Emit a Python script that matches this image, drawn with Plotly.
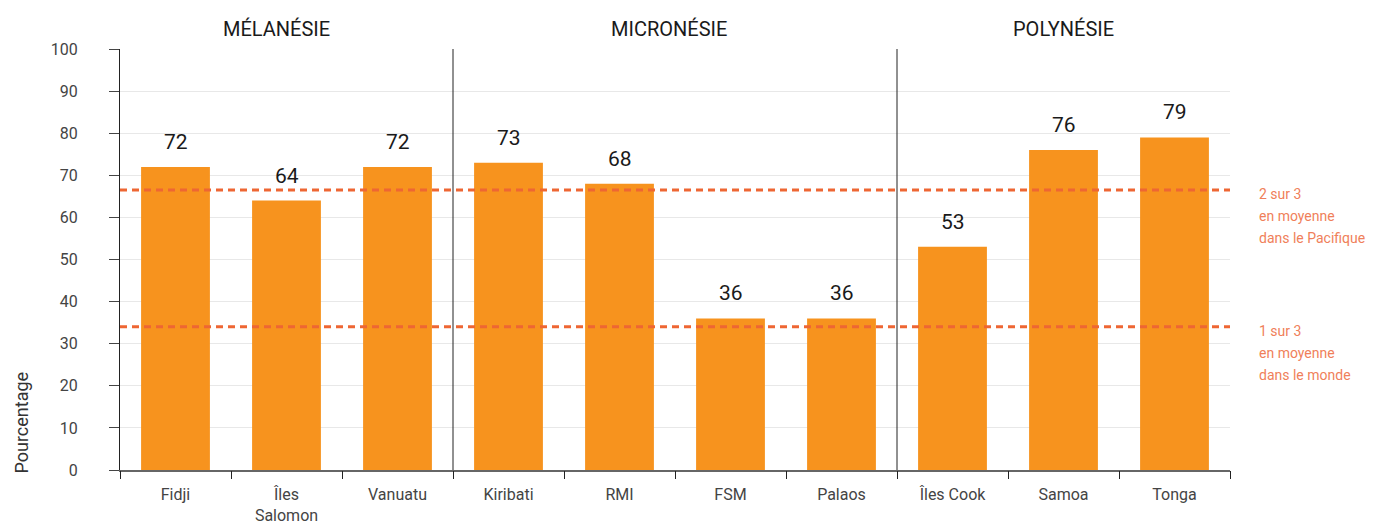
import plotly.graph_objects as go

countries = ["Fidji", "Îles<br>Salomon", "Vanuatu", "Kiribati", "RMI", "FSM", "Palaos",
             "Îles Cook", "Samoa", "Tonga"]
values = [72, 64, 72, 73, 68, 36, 36, 53, 76, 79]
regions = ["MÉLANÉSIE", "MICRONÉSIE", "POLYNÉSIE"]
region_centers = [1, 4.5, 8]
region_shift = [-10, -6, 0]
separators = [2.5, 6.5]
ref_values = [66.5, 34]
ref_texts = [["2 sur 3", "en moyenne", "dans le Pacifique"],
             ["1 sur 3", "en moyenne", "dans le monde"]]
y_ticks = list(range(0, 101, 10))

FONT = "Roboto"
BAR = "#F7931E"
DASH = "#EE6633"
NOTE = "#F07F5A"

fig = go.Figure()
fig.add_trace(go.Bar(x=list(range(len(countries))), y=values, marker_color=BAR,
                     marker_line_width=0, width=0.62, hoverinfo="skip"))

for i, v in enumerate(values):
    fig.add_annotation(x=i, y=v, text=str(v), showarrow=False, yanchor="bottom",
                       yshift=11, font=dict(family=FONT, size=21, color="#1a1a1a"))

for r, c, s in zip(regions, region_centers, region_shift):
    fig.add_annotation(x=c, y=1, yref="paper", text=r, showarrow=False,
                       yanchor="bottom", yshift=6, xshift=s,
                       font=dict(family=FONT, size=20, color="#1a1a1a"))

for sx in separators:
    fig.add_shape(type="line", x0=sx, x1=sx, y0=0, y1=1, yref="paper",
                  line=dict(color="#222222", width=1))

for rv, lines in zip(ref_values, ref_texts):
    fig.add_shape(type="line", x0=0, x1=1, xref="paper", y0=rv, y1=rv,
                  line=dict(color=DASH, width=3, dash="7px,5px"))
    for k, t in enumerate(lines):
        fig.add_annotation(x=1, xref="paper", y=rv, text=t, showarrow=False,
                           xanchor="left", yanchor="middle", xshift=27,
                           yshift=-4 - 22 * k,
                           font=dict(family=FONT, size=14, color=NOTE))

fig.add_annotation(x=0, xref="paper", y=0, text="Pourcentage", showarrow=False,
                   textangle=-90, xanchor="left", yanchor="bottom", xshift=-112,
                   yshift=-6, font=dict(family=FONT, size=18, color="#333333"))

fig.update_layout(
    width=1373, height=524,
    margin=dict(l=120, r=143, t=49, b=54),
    plot_bgcolor="white", paper_bgcolor="white",
    showlegend=False,
    bargap=0.38,
    xaxis=dict(tickmode="array", tickvals=list(range(len(countries))),
               ticktext=countries, range=[-0.5, len(countries) - 0.5],
               showgrid=False, showline=True, linecolor="#666666", linewidth=1.5,
               ticks="", ticklabelstandoff=9, automargin=False,
               tickfont=dict(family=FONT, size=16, color="#444444"),
               zeroline=False),
    yaxis=dict(range=[0, 100], tickvals=y_ticks, showgrid=True, gridcolor="#e8e8e8",
               gridwidth=1, showline=True, linecolor="#222222", linewidth=1,
               ticks="outside", ticklen=10, tickcolor="#444444",
               ticklabelstandoff=28, automargin=False,
               tickfont=dict(family=FONT, size=16, color="#444444"), zeroline=False),
)

# x-axis boundary ticks via a secondary axis
fig.update_layout(xaxis2=dict(overlaying="x", range=[-0.5, len(countries) - 0.5],
                              tickvals=[i - 0.5 for i in range(len(countries) + 1)],
                              ticktext=[""] * (len(countries) + 1),
                              ticks="outside", ticklen=8, tickcolor="#222222",
                              side="bottom", showgrid=False, showline=False,
                              automargin=False, zeroline=False))
fig.add_trace(go.Scatter(x=[0], y=[0], xaxis="x2", mode="markers",
                         marker=dict(opacity=0), hoverinfo="skip"))

fig.write_html("out.html", config={"displayModeBar": False},
               post_script="document.body.style.margin='0';document.body.style.overflow='hidden';")
